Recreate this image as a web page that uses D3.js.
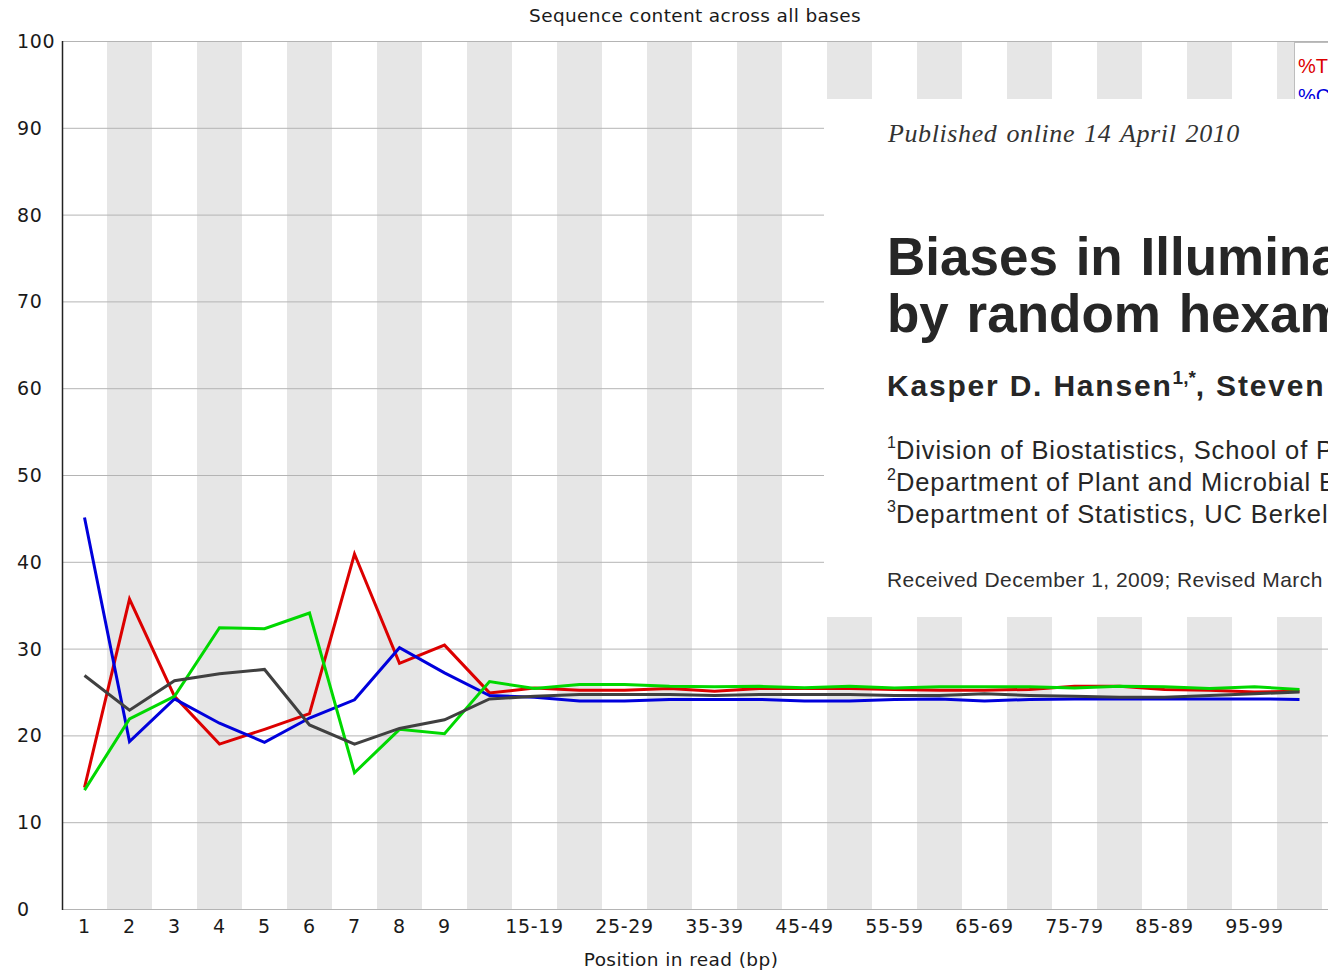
<!DOCTYPE html>
<html>
<head>
<meta charset="utf-8">
<script src="https://cdn.jsdelivr.net/npm/d3@7"></script>
<style>
  html, body { margin: 0; padding: 0; background: #fff; overflow: hidden; }
  svg { display: block; }
</style>
</head>
<body>
<div id="chart"></div>
<script>
// position groups along the read
const categories = ["1", "2", "3", "4", "5", "6", "7", "8", "9",
  "10-14", "15-19", "20-24", "25-29", "30-34", "35-39", "40-44", "45-49",
  "50-54", "55-59", "60-64", "65-69", "70-74", "75-79", "80-84", "85-89",
  "90-94", "95-99", "100-101"];
// labels FastQC actually prints under the axis
const shownTicks = ["1", "2", "3", "4", "5", "6", "7", "8", "9",
  "15-19", "25-29", "35-39", "45-49", "55-59", "65-69", "75-79", "85-89", "95-99"];
const yTicks = [0, 10, 20, 30, 40, 50, 60, 70, 80, 90, 100];

const pctT = [14.0, 35.7, 24.5, 19.0, 20.7, 22.5, 40.9, 28.3, 30.4, 24.9,
  25.45, 25.2, 25.2, 25.4, 25.1, 25.4, 25.4, 25.4,
  25.3, 25.2, 25.2, 25.3, 25.65, 25.65, 25.3, 25.2, 25.0, 25.1];
const pctC = [45.1, 19.3, 24.2, 21.4, 19.2, 22.0, 24.1, 30.1, 27.2, 24.6,
  24.4, 23.95, 23.95, 24.15, 24.15, 24.15, 23.95, 23.95,
  24.15, 24.2, 23.95, 24.15, 24.2, 24.2, 24.2, 24.2, 24.2, 24.15];
const pctA = [13.7, 21.9, 24.5, 32.4, 32.3, 34.1, 15.7, 20.7, 20.2, 26.2,
  25.4, 25.85, 25.85, 25.65, 25.6, 25.65, 25.5, 25.65,
  25.45, 25.6, 25.6, 25.6, 25.45, 25.65, 25.6, 25.4, 25.6, 25.3];
const pctG = [26.9, 22.9, 26.3, 27.1, 27.6, 21.2, 19.0, 20.8, 21.8, 24.2,
  24.5, 24.7, 24.7, 24.7, 24.6, 24.7, 24.7, 24.7,
  24.6, 24.6, 24.8, 24.6, 24.5, 24.4, 24.4, 24.6, 24.8, 25.0];

const seriesNames = ["%T", "%C", "%A", "%G"];
const seriesValues = [pctT, pctC, pctA, pctG];
const seriesColors = ["#dc0000", "#0000dc", "#00d800", "#404040"];

const W = 1328, H = 971;
const plotLeft = 62, plotTop = 41, plotBottom = 909;
const bandW = 45;

const svg = d3.select("#chart").append("svg")
  .attr("width", W)
  .attr("height", H);

const x = d3.scaleBand()
  .domain(categories)
  .range([plotLeft, plotLeft + bandW * categories.length])
  .padding(0);

const y = d3.scaleLinear()
  .domain([0, 100])
  .range([plotBottom, plotTop]);

const chartFont = "'DejaVu Sans', sans-serif";

// alternating stripes
svg.append("g").selectAll("rect")
  .data(categories.filter((d, i) => i % 2 === 1))
  .enter().append("rect")
  .attr("x", d => x(d))
  .attr("y", y(100))
  .attr("width", x.bandwidth())
  .attr("height", y(0) - y(100))
  .attr("fill", "#e6e6e6");

// horizontal grid
svg.append("g").selectAll("line")
  .data(yTicks)
  .enter().append("line")
  .attr("x1", plotLeft)
  .attr("x2", W)
  .attr("y1", d => y(d) + 0.5)
  .attr("y2", d => y(d) + 0.5)
  .attr("stroke", "#b4b4b4")
  .attr("stroke-width", 1);

// y axis line
svg.append("line")
  .attr("x1", plotLeft + 0.5).attr("x2", plotLeft + 0.5)
  .attr("y1", y(100)).attr("y2", y(0) + 1)
  .attr("stroke", "#222")
  .attr("stroke-width", 1.5);

// y tick labels (left aligned like FastQC)
svg.append("g").selectAll("text")
  .data(yTicks)
  .enter().append("text")
  .attr("x", 17)
  .attr("y", d => y(d) + 7)
  .attr("font-family", chartFont)
  .attr("font-size", "19px")
  .attr("letter-spacing", "0.6px")
  .attr("fill", "#1a1a1a")
  .text(d => d);

// x tick labels
svg.append("g").selectAll("text")
  .data(shownTicks)
  .enter().append("text")
  .attr("x", d => x(d) + x.bandwidth() / 2)
  .attr("y", 933)
  .attr("text-anchor", "middle")
  .attr("font-family", chartFont)
  .attr("font-size", "19px")
  .attr("letter-spacing", "0.7px")
  .attr("fill", "#1a1a1a")
  .text(d => d);

// lines
const line = d3.line()
  .x((d, i) => x(categories[i]) + x.bandwidth() / 2)
  .y(d => y(d));

seriesValues.forEach((vals, k) => {
  svg.append("path")
    .attr("d", line(vals))
    .attr("fill", "none")
    .attr("stroke", seriesColors[k])
    .attr("stroke-width", 3)
    .attr("stroke-linejoin", "miter");
});

// legend box
const legend = svg.append("g").attr("transform", "translate(1294, 42)");
legend.append("rect")
  .attr("x", 0.5).attr("y", 0.5)
  .attr("width", 80).attr("height", 130)
  .attr("fill", "#fff")
  .attr("stroke", "#bdbdbd");
legend.selectAll("text")
  .data(seriesNames)
  .enter().append("text")
  .attr("x", 4)
  .attr("y", (d, i) => 31 + i * 30)
  .attr("font-family", "'Liberation Sans', Arial, sans-serif")
  .attr("font-size", "20px")
  .attr("fill", (d, i) => seriesColors[i])
  .text(d => d);

// titles
svg.append("text")
  .attr("x", 695)
  .attr("y", 22)
  .attr("text-anchor", "middle")
  .attr("font-family", chartFont)
  .attr("font-size", "18.5px")
  .attr("letter-spacing", "0.35px")
  .attr("fill", "#1a1a1a")
  .text("Sequence content across all bases");

svg.append("text")
  .attr("x", 681)
  .attr("y", 966)
  .attr("text-anchor", "middle")
  .attr("font-family", chartFont)
  .attr("font-size", "18.5px")
  .attr("letter-spacing", "0.4px")
  .attr("fill", "#1a1a1a")
  .text("Position in read (bp)");

// pasted paper header on top of the plot
const paper = svg.append("g");
paper.append("rect")
  .attr("x", 824).attr("y", 99)
  .attr("width", W - 824).attr("height", 518)
  .attr("fill", "#fff");

const sans = "'Liberation Sans', Arial, Helvetica, sans-serif";
const ink = "#262626";

paper.append("text")
  .attr("x", 888).attr("y", 142)
  .attr("font-family", "'Liberation Serif', 'Times New Roman', serif")
  .attr("font-style", "italic")
  .attr("font-size", "26px")
  .attr("letter-spacing", "0.6px")
  .attr("word-spacing", "2px")
  .attr("fill", "#333")
  .text("Published online 14 April 2010");

paper.append("text")
  .attr("x", 887).attr("y", 275)
  .attr("font-family", sans)
  .attr("font-weight", "bold")
  .attr("font-size", "53px")
  .attr("word-spacing", "3px")
  .attr("fill", ink)
  .text("Biases in Illumina");

paper.append("text")
  .attr("x", 887).attr("y", 332)
  .attr("font-family", sans)
  .attr("font-weight", "bold")
  .attr("font-size", "53px")
  .attr("word-spacing", "3px")
  .attr("fill", ink)
  .text("by random hexamer");

const authors = paper.append("text")
  .attr("x", 887).attr("y", 396)
  .attr("font-family", sans)
  .attr("font-weight", "bold")
  .attr("font-size", "30px")
  .attr("letter-spacing", "1.8px")
  .attr("fill", ink);
authors.append("tspan").text("Kasper D. Hansen");
authors.append("tspan").attr("dy", -12).attr("font-size", "19px").attr("letter-spacing", "0px").text("1,*");
authors.append("tspan").attr("dy", 12).text(", Steven");

const affiliations = [
  ["1", "Division of Biostatistics, School of Public"],
  ["2", "Department of Plant and Microbial Biology"],
  ["3", "Department of Statistics, UC Berkeley"]
];
affiliations.forEach((a, i) => {
  const t = paper.append("text")
    .attr("x", 887).attr("y", 459 + i * 32)
    .attr("font-family", sans)
    .attr("font-size", "25.5px")
    .attr("letter-spacing", "0.9px")
    .attr("fill", ink);
  t.append("tspan").attr("dy", -11).attr("font-size", "16px").attr("letter-spacing", "0px").text(a[0]);
  t.append("tspan").attr("dy", 11).text(a[1]);
});

paper.append("text")
  .attr("x", 887).attr("y", 587)
  .attr("font-family", sans)
  .attr("font-size", "21px")
  .attr("letter-spacing", "0.45px")
  .attr("fill", "#2e2e2e")
  .text("Received December 1, 2009; Revised March");
</script>
</body>
</html>
